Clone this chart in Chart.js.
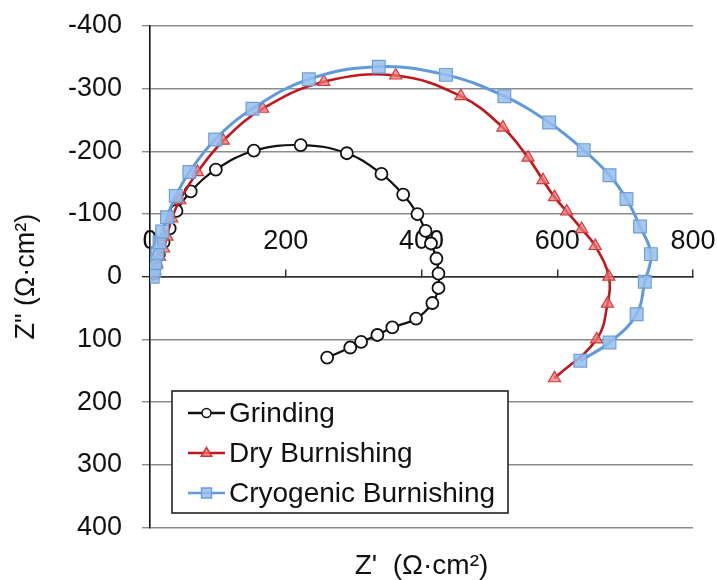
<!DOCTYPE html>
<html>
<head>
<meta charset="utf-8">
<script src="https://cdn.jsdelivr.net/npm/chart.js@4/dist/chart.umd.min.js"></script>
<style>
  html, body { margin: 0; padding: 0; background: #ffffff; }
  #wrap { width: 717px; height: 580px; }
</style>
</head>
<body>
<div id="wrap"><canvas id="nyquist" width="717" height="580"></canvas></div>
<script>
// Nyquist data: real part Z' and imaginary part Z'' (Ω·cm²), one pair of arrays per surface
const seriesNames = ['Grinding', 'Dry Burnishing', 'Cryogenic Burnishing'];

const grindRe = [5, 8, 13, 20, 29, 39, 60, 97, 153, 222, 290, 341, 373, 394, 406, 414, 422, 425, 425, 416, 392, 357, 335, 311, 295, 261];
const grindIm = [-5, -18, -35, -55, -77, -105, -136, -171, -201, -210, -197, -164, -131, -100, -73, -53, -29, -5, 18, 42, 67, 81, 93, 104, 113, 129];

const dryRe = [4, 7, 10, 14, 20, 25, 32, 44, 70, 108, 166, 256, 362, 458, 520, 557, 579, 596, 614, 636, 656, 676, 674, 658, 596];
const dryIm = [-2, -10, -20, -32, -45, -64, -93, -122, -167, -217, -268, -311, -321, -288, -238, -190, -154, -127, -104, -76, -49, 0, 43, 100, 162];

const cryoRe = [4, 6, 8, 11, 14, 18, 25, 38, 58, 96, 151, 234, 337, 436, 522, 588, 639, 677, 702, 722, 738, 729, 717, 677, 634];
const cryoIm = [0, -10, -22, -38, -55, -72, -95, -129, -167, -219, -268, -315, -335, -322, -288, -246, -202, -162, -124, -80, -36, 8, 60, 105, 134];

const xAxisTitle = "Z'  (Ω·cm²)";
const yAxisTitle = 'Z" (Ω·cm²)';

const FONT = "'Liberation Sans', Arial, Helvetica, sans-serif";
const toPoints = (re, im) => re.map((x, i) => ({ x: x, y: im[i] }));

const styles = [
  { line: '#111111', fill: '#ffffff', edge: '#111111', shape: 'circle' },
  { line: '#c0161d', fill: 'rgba(238,120,120,0.75)', edge: '#d23a3a', shape: 'triangle' },
  { line: '#5f9bdb', fill: 'rgba(150,190,236,0.85)', edge: '#6c9fdc', shape: 'rect' }
];

// boxed legend drawn inside the plot area, line-through-marker style
function drawMarker(ctx, shape, x, y, s, st) {
  ctx.fillStyle = st.fill;
  ctx.strokeStyle = st.edge;
  ctx.lineWidth = 1.5;
  ctx.beginPath();
  if (shape === 'circle') {
    ctx.arc(x, y, s, 0, Math.PI * 2);
  } else if (shape === 'triangle') {
    ctx.moveTo(x, y - s * 1.1);
    ctx.lineTo(x + s * 1.05, y + s * 0.65);
    ctx.lineTo(x - s * 1.05, y + s * 0.65);
    ctx.closePath();
  } else {
    ctx.rect(x - s, y - s, 2 * s, 2 * s);
  }
  ctx.fill();
  ctx.stroke();
}

const boxLegend = {
  id: 'boxLegend',
  afterDraw(chart) {
    const ctx = chart.ctx;
    const bx = 172, by = 391, bw = 336, bh = 122;
    ctx.save();
    ctx.fillStyle = '#ffffff';
    ctx.fillRect(bx, by, bw, bh);
    ctx.strokeStyle = '#222222';
    ctx.lineWidth = 1.6;
    ctx.strokeRect(bx, by, bw, bh);
    seriesNames.forEach((name, i) => {
      const st = styles[i];
      const ry = by + 22 + i * 40;
      ctx.strokeStyle = st.line;
      ctx.lineWidth = 2.5;
      ctx.beginPath();
      ctx.moveTo(188, ry);
      ctx.lineTo(225, ry);
      ctx.stroke();
      drawMarker(ctx, st.shape, 206.5, ry, i === 0 ? 4.5 : 5, st);
      ctx.fillStyle = '#111111';
      ctx.font = '28px ' + FONT;
      ctx.textBaseline = 'middle';
      ctx.textAlign = 'left';
      ctx.fillText(name, 229, ry + 1);
    });
    ctx.restore();
  }
};

const whiteBg = {
  id: 'whiteBg',
  beforeDraw(chart) {
    const ctx = chart.ctx;
    ctx.save();
    ctx.fillStyle = '#ffffff';
    ctx.fillRect(0, 0, chart.width, chart.height);
    ctx.restore();
  }
};

new Chart(document.getElementById('nyquist'), {
  type: 'scatter',
  data: {
    datasets: [
      {
        label: seriesNames[0],
        data: toPoints(grindRe, grindIm),
        showLine: true,
        tension: 0.4,
        borderColor: styles[0].line,
        borderWidth: 2.2,
        pointStyle: 'circle',
        pointRadius: 6,
        pointBackgroundColor: styles[0].fill,
        pointBorderColor: styles[0].edge,
        pointBorderWidth: 1.8,
        order: 2
      },
      {
        label: seriesNames[1],
        data: toPoints(dryRe, dryIm),
        showLine: true,
        tension: 0.4,
        borderColor: styles[1].line,
        borderWidth: 2.6,
        pointStyle: 'triangle',
        pointRadius: 7,
        pointBackgroundColor: styles[1].fill,
        pointBorderColor: styles[1].edge,
        pointBorderWidth: 1.2,
        order: 1
      },
      {
        label: seriesNames[2],
        data: toPoints(cryoRe, cryoIm),
        showLine: true,
        tension: 0.4,
        borderColor: styles[2].line,
        borderWidth: 3,
        pointStyle: 'rect',
        pointRadius: 9,
        pointBackgroundColor: styles[2].fill,
        pointBorderColor: styles[2].edge,
        pointBorderWidth: 1.2,
        order: 0
      }
    ]
  },
  options: {
    responsive: false,
    animation: false,
    devicePixelRatio: 1,
    layout: { padding: { top: 26, right: 24, bottom: 0, left: 0 } },
    plugins: {
      legend: { display: false },
      tooltip: { enabled: false },
      title: {
        display: true,
        position: 'bottom',
        fullSize: false,
        text: xAxisTitle,
        color: '#111111',
        font: { family: FONT, size: 28, weight: 'normal' },
        padding: { top: 22, bottom: -3 }
      }
    },
    scales: {
      x: {
        type: 'linear',
        position: { y: 0 },
        min: 0,
        max: 800,
        ticks: {
          stepSize: 200,
          autoSkip: false,
          maxRotation: 0,
          padding: -43,
          color: '#111111',
          font: { family: FONT, size: 27 }
        },
        grid: {
          drawOnChartArea: false,
          drawTicks: true,
          tickLength: -8,
          color: '#333333',
          lineWidth: 1.5
        },
        border: { display: true, color: '#333333', width: 1.6 }
      },
      y: {
        type: 'linear',
        position: 'left',
        reverse: true,
        min: -400,
        max: 400,
        afterFit(scale) {
          scale.width = 150;
          scale.paddingTop = 0;
          scale.paddingBottom = 0;
        },
        ticks: {
          stepSize: 100,
          padding: 20,
          color: '#111111',
          font: { family: FONT, size: 27 }
        },
        grid: {
          color: (c) => (c.tick && c.tick.value === 0 ? '#333333' : '#8c8c8c'),
          lineWidth: 1.4,
          tickLength: 8
        },
        border: { display: true, color: '#111111', width: 1.6 },
        title: {
          display: true,
          text: yAxisTitle,
          color: '#111111',
          font: { family: FONT, size: 27 },
          padding: { top: 10, bottom: 0 }
        }
      }
    }
  },
  plugins: [whiteBg, boxLegend]
});
</script>
</body>
</html>
